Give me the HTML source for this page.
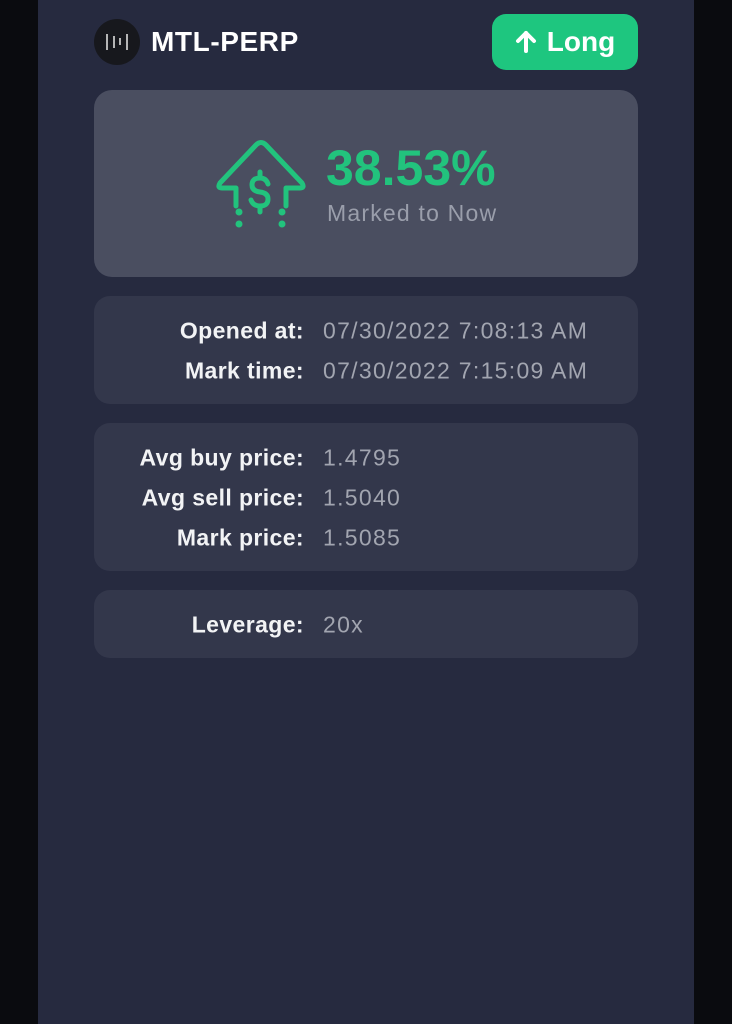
<!DOCTYPE html>
<html><head><meta charset="utf-8"><style>
*{margin:0;padding:0;box-sizing:border-box}
body{width:732px;height:1024px;background:#0a0b0f;font-family:"Liberation Sans",sans-serif;position:relative;overflow:hidden}
#panel{position:absolute;left:38px;top:0;width:656px;height:1024px;background:#262a3f}
.abs{position:absolute}
.card{position:absolute;left:94px;width:544px;background:#33374b;border-radius:16px}
.lbl{position:absolute;right:428px;color:#f2f3f5;font-weight:bold;font-size:23px;letter-spacing:0.4px;white-space:nowrap;transform:translateY(-50%)}
.val{position:absolute;left:323px;color:#a2a5b0;font-size:23px;letter-spacing:1.3px;white-space:nowrap;transform:translateY(-50%)}
</style></head><body>
<div id="panel"></div>
<div class="abs" style="left:94px;top:19px;width:46px;height:46px;border-radius:50%;background:#17181d">
<svg width="46" height="46"><g stroke="#ddd" stroke-width="1.6"><line x1="13" y1="15" x2="13" y2="31"/><line x1="20" y1="17" x2="20" y2="29"/><line x1="26" y1="19" x2="26" y2="26"/><line x1="33" y1="15" x2="33" y2="31"/></g></svg></div>
<div class="abs" style="left:151px;top:26px;color:#fff;font-weight:bold;font-size:28px;letter-spacing:0.6px">MTL-PERP</div>
<div class="abs" style="left:492px;top:14px;width:146px;height:56px;border-radius:14px;background:#1ec67f;color:#fff;font-weight:bold;font-size:28px;line-height:56px;text-align:center">
<svg width="22" height="24" style="vertical-align:-2px;margin-right:10px"><g stroke="#fff" stroke-width="4" fill="none" stroke-linecap="round" stroke-linejoin="round"><line x1="11" y1="4" x2="11" y2="22"/><polyline points="3,12 11,4 19,12"/></g></svg>Long</div>
<div class="card" style="top:90px;height:187px;background:#4a4e60;border-radius:18px"></div>
<svg class="abs" style="left:214px;top:136px" width="94" height="96">
<g stroke="#22c37d" stroke-width="5" fill="none" stroke-linecap="round" stroke-linejoin="round">
<path d="M22 70 V52 H8 Q3 52 6 47 L42 9 Q47 4 52 9 L88 47 Q91 52 86 52 H72 V70"/>
<path d="M54 48 Q52 42 46 42 Q38 42 38 49 Q38 55 46 56 Q54 57 54 63 Q54 70 46 70 Q39 70 37 64 M46 36 V42 M46 70 V76"/>
</g>
<g fill="#22c37d"><circle cx="25" cy="76" r="3.5"/><circle cx="25" cy="88" r="3.5"/><circle cx="68" cy="76" r="3.5"/><circle cx="68" cy="88" r="3.5"/></g></svg>
<div class="abs" style="left:326px;top:140px;color:#22c37d;font-weight:bold;font-size:50px;line-height:56px">38.53%</div>
<div class="abs" style="left:327px;top:200px;color:#9a9eab;font-size:23px;letter-spacing:1.2px">Marked to Now</div>
<div class="card" style="top:296px;height:108px"></div>
<div class="lbl" style="top:331px">Opened at:</div>
<div class="val" style="top:331px">07/30/2022 7:08:13 AM</div>
<div class="lbl" style="top:371px">Mark time:</div>
<div class="val" style="top:371px">07/30/2022 7:15:09 AM</div>
<div class="card" style="top:423px;height:148px"></div>
<div class="lbl" style="top:458px">Avg buy price:</div>
<div class="val" style="top:458px">1.4795</div>
<div class="lbl" style="top:498px">Avg sell price:</div>
<div class="val" style="top:498px">1.5040</div>
<div class="lbl" style="top:538px">Mark price:</div>
<div class="val" style="top:538px">1.5085</div>
<div class="card" style="top:590px;height:68px"></div>
<div class="lbl" style="top:625px">Leverage:</div>
<div class="val" style="top:625px">20x</div>
</body></html>
